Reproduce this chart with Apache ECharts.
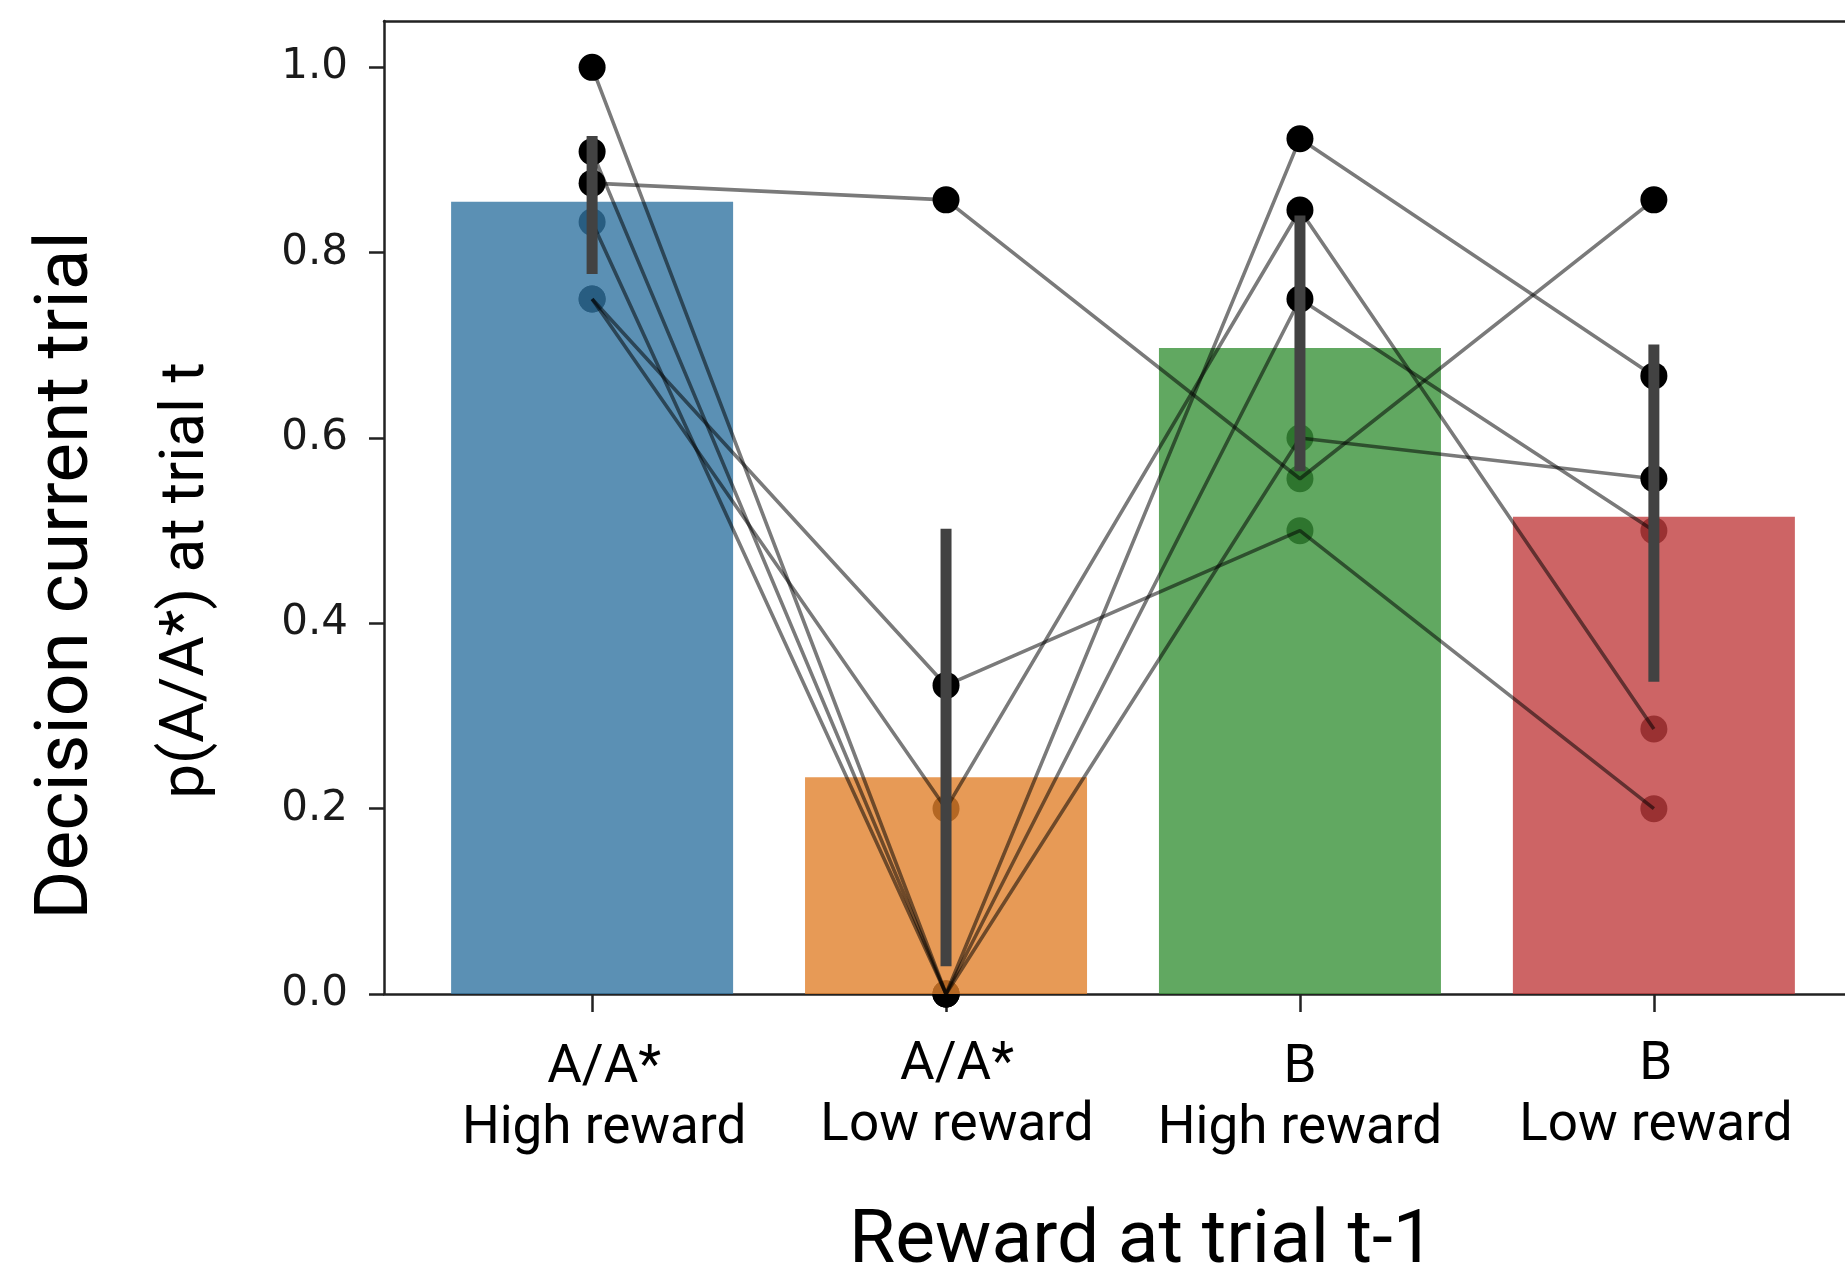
<!DOCTYPE html>
<html>
<head>
<meta charset="utf-8">
<script src="https://cdn.jsdelivr.net/npm/echarts@6/dist/echarts.min.js"></script>
<style>
html,body{margin:0;padding:0;background:#fff;}
#chart{width:1845px;height:1285px;}
</style>
</head>
<body>
<div id="chart"></div>
<script>
// ---- data ----
const categories = ['A/A*\nHigh reward', 'A/A*\nLow reward', 'B\nHigh reward', 'B\nLow reward'];
const catPositions = [0, 1, 2, 3];
const barMeans = [0.855, 0.234, 0.697, 0.515];
const errLow = [0.777, 0.030, 0.564, 0.337];
const errHigh = [0.926, 0.502, 0.840, 0.701];
const subject1 = [0.875, 0.857, 0.556, 0.857];
const subject2 = [0.75, 0.333, 0.5, 0.2];
const subject3 = [0.75, 0.2, 0.846, 0.286];
const subject4 = [1.0, 0.0, 0.923, 0.667];
const subject5 = [0.909, 0.0, 0.75, 0.5];
const subject6 = [0.833, 0.0, 0.6, 0.556];
const yTicks = [0, 0.2, 0.4, 0.6, 0.8, 1.0];
const xTitle = 'Reward at trial t-1';
const yTitle1 = 'Decision current trial';
const yTitle2 = 'p(A/A*) at trial t';

const subjects = [subject1, subject2, subject3, subject4, subject5, subject6];
const barColors = ['#3274a1', '#e1812c', '#3a923a', '#c03d3e'];
const X_MIN = -0.588, X_MAX = 3.54;

const chart = echarts.init(document.getElementById('chart'), null, {renderer: 'canvas'});

const labelPad = [
  {t: [6, 0, 0, 24], b: [6, 0, 0, 24]},
  {t: [0, 0, 0, 22], b: [0, 0, 0, 22]},
  {t: [6, 0, 0, 0], b: [6, 0, 0, 0]},
  {t: [0, 0, 0, 4], b: [0, 0, 0, 4]}
];
const rich = {};
labelPad.forEach((p, i) => {
  rich['t' + i] = {fontFamily: 'Roboto', fontSize: 53, lineHeight: 61, color: '#000', padding: p.t};
  rich['b' + i] = {fontFamily: 'Roboto', fontSize: 53, lineHeight: 61, color: '#000', padding: p.b};
});

const pointData = [];
subjects.forEach(s => s.forEach((v, i) => pointData.push([catPositions[i], v])));

const lineSeries = subjects.map((s, k) => ({
  type: 'line',
  name: 'subject' + (k + 1),
  data: s.map((v, i) => [catPositions[i], v]),
  showSymbol: false,
  symbol: 'none',
  lineStyle: {color: 'rgba(0,0,0,0.52)', width: 3.6},
  z: 3,
  silent: true
}));

const option = {
  animation: false,
  backgroundColor: '#fff',
  grid: {
    left: 384, top: 21, width: 1461, height: 973,
    outerBoundsMode: 'none',
    containLabel: false,
    show: false
  },
  xAxis: [
    {
      type: 'value',
      min: X_MIN,
      max: X_MAX,
      position: 'bottom',
      splitLine: {show: false},
      axisLine: {show: true, onZero: false, lineStyle: {color: '#222', width: 2.5}},
      axisTick: {show: true, customValues: catPositions, length: 18, lineStyle: {color: '#222', width: 2.5}},
      axisLabel: {
        show: true,
        customValues: catPositions,
        margin: 41,
        formatter: function (v) {
          const i = Math.round(v);
          const parts = categories[i].split('\n');
          return '{t' + i + '|' + parts[0] + '}\n{b' + i + '|' + parts[1] + '}';
        },
        rich: rich
      },
      name: xTitle,
      nameLocation: 'middle',
      nameGap: 212,
      nameTextStyle: {fontFamily: 'Roboto', fontSize: 75, lineHeight: 75, color: '#000', padding: [0, 0, 0, 55]}
    },
    {
      type: 'value',
      min: X_MIN,
      max: X_MAX,
      position: 'top',
      splitLine: {show: false},
      axisLine: {show: true, onZero: false, lineStyle: {color: '#222', width: 2.5}},
      axisTick: {show: false},
      axisLabel: {show: false}
    }
  ],
  yAxis: [
    {
      type: 'value',
      min: 0,
      max: 1.05,
      interval: 0.2,
      splitLine: {show: false},
      axisLine: {show: true, onZero: false, lineStyle: {color: '#222', width: 2.5}},
      axisTick: {show: true, customValues: yTicks, length: 15, lineStyle: {color: '#222', width: 2.5}},
      axisLabel: {
        customValues: yTicks,
        margin: 36,
        fontFamily: 'DejaVu Sans',
        fontSize: 42,
        color: '#1a1a1a',
        formatter: v => v.toFixed(1)
      },
      name: yTitle2,
      nameLocation: 'middle',
      nameRotate: 90,
      nameGap: 166,
      nameTextStyle: {fontFamily: 'Roboto', fontSize: 62, lineHeight: 62, color: '#000', padding: [0, 146, 0, 0]}
    },
    {
      type: 'value',
      min: 0,
      max: 1.05,
      position: 'left',
      splitLine: {show: false},
      axisLine: {show: false, onZero: false},
      axisTick: {show: false},
      axisLabel: {show: false},
      name: yTitle1,
      nameLocation: 'middle',
      nameRotate: 90,
      nameGap: 278,
      nameTextStyle: {fontFamily: 'Roboto', fontSize: 75, lineHeight: 75, color: '#000', padding: [0, 136, 0, 0]}
    }
  ],
  series: [
    {
      type: 'scatter',
      name: 'points',
      data: pointData,
      symbol: 'circle',
      symbolSize: 27,
      itemStyle: {color: '#000', opacity: 1},
      z: 1,
      silent: true
    },
    {
      type: 'bar',
      name: 'mean',
      data: barMeans.map((v, i) => ({value: [catPositions[i], v], itemStyle: {color: barColors[i]}})),
      barWidth: 282,
      itemStyle: {opacity: 0.8},
      z: 2,
      silent: true
    }
  ].concat(lineSeries).concat([
    {
      type: 'custom',
      name: 'ci',
      data: errLow.map((lo, i) => [catPositions[i], lo, errHigh[i]]),
      renderItem: function (params, api) {
        const x = api.value(0);
        const p1 = api.coord([x, api.value(1)]);
        const p2 = api.coord([x, api.value(2)]);
        return {
          type: 'line',
          shape: {x1: p1[0], y1: p1[1], x2: p2[0], y2: p2[1]},
          style: {stroke: '#424242', lineWidth: 11, lineCap: 'butt'}
        };
      },
      z: 4,
      silent: true
    }
  ])
};
chart.setOption(option);
</script>
</body>
</html>
